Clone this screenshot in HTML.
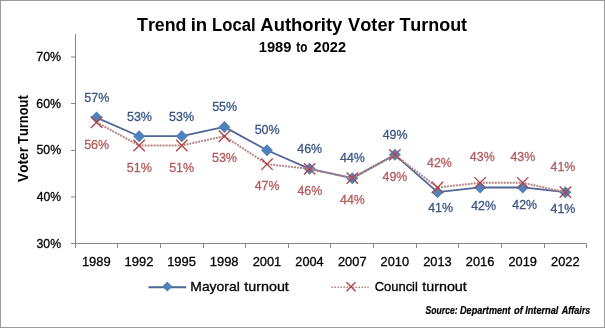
<!DOCTYPE html>
<html><head><meta charset="utf-8"><style>
html,body{margin:0;padding:0;background:#fff;width:605px;height:328px;overflow:hidden}
svg{display:block;will-change:transform}
text{font-family:"Liberation Sans",sans-serif;font-kerning:none}
</style></head><body>
<svg width="605" height="328" viewBox="0 0 605 328">
<rect x="0.5" y="0.5" width="604" height="327" fill="#fff" stroke="#9a9a9a" stroke-width="1"/>
<path d="M75.5 34V248M71 243.5H586.5V248" stroke="#868686" stroke-width="1" fill="none"/>
<path d="M71 57.0H75M71 103.5H75M71 150.4H75M71 196.9H75M117.5 244V248M160.5 244V248M203.5 244V248M245.5 244V248M288.5 244V248M330.5 244V248M373.5 244V248M416.5 244V248M458.5 244V248M501.5 244V248M544.5 244V248" stroke="#868686" stroke-width="1" fill="none"/>
<polyline points="96.54,117.58 139.16,136.22 181.78,136.22 224.40,126.90 267.02,150.20 309.64,168.84 352.26,178.16 394.88,154.86 437.50,192.14 480.12,187.48 522.74,187.48 565.36,192.14" fill="none" stroke="#4d6796" stroke-width="1.8" stroke-linejoin="round"/>
<path d="M96.54 111.58L102.54 117.58L96.54 123.58L90.54 117.58Z" fill="#4F81BD"/>
<path d="M139.16 130.22L145.16 136.22L139.16 142.22L133.16 136.22Z" fill="#4F81BD"/>
<path d="M181.78 130.22L187.78 136.22L181.78 142.22L175.78 136.22Z" fill="#4F81BD"/>
<path d="M224.40 120.90L230.40 126.90L224.40 132.90L218.40 126.90Z" fill="#4F81BD"/>
<path d="M267.02 144.20L273.02 150.20L267.02 156.20L261.02 150.20Z" fill="#4F81BD"/>
<path d="M309.64 162.84L315.64 168.84L309.64 174.84L303.64 168.84Z" fill="#4F81BD"/>
<path d="M352.26 172.16L358.26 178.16L352.26 184.16L346.26 178.16Z" fill="#4F81BD"/>
<path d="M394.88 148.86L400.88 154.86L394.88 160.86L388.88 154.86Z" fill="#4F81BD"/>
<path d="M437.50 186.14L443.50 192.14L437.50 198.14L431.50 192.14Z" fill="#4F81BD"/>
<path d="M480.12 181.48L486.12 187.48L480.12 193.48L474.12 187.48Z" fill="#4F81BD"/>
<path d="M522.74 181.48L528.74 187.48L522.74 193.48L516.74 187.48Z" fill="#4F81BD"/>
<path d="M565.36 186.14L571.36 192.14L565.36 198.14L559.36 192.14Z" fill="#4F81BD"/>
<polyline points="96.54,122.24 139.16,145.54 181.78,145.54 224.40,136.22 267.02,164.18 309.64,168.84 352.26,178.16 394.88,154.86 437.50,187.48 480.12,182.82 522.74,182.82 565.36,192.14" fill="none" stroke="#b98585" stroke-width="2.0" stroke-dasharray="2 1"/>
<path d="M90.84 116.54L102.24 127.94M102.24 116.54L90.84 127.94M133.46 139.84L144.86 151.24M144.86 139.84L133.46 151.24M176.08 139.84L187.48 151.24M187.48 139.84L176.08 151.24M218.70 130.52L230.10 141.92M230.10 130.52L218.70 141.92M261.32 158.48L272.72 169.88M272.72 158.48L261.32 169.88M303.94 163.14L315.34 174.54M315.34 163.14L303.94 174.54M346.56 172.46L357.96 183.86M357.96 172.46L346.56 183.86M389.18 149.16L400.58 160.56M400.58 149.16L389.18 160.56M431.80 181.78L443.20 193.18M443.20 181.78L431.80 193.18M474.42 177.12L485.82 188.52M485.82 177.12L474.42 188.52M517.04 177.12L528.44 188.52M528.44 177.12L517.04 188.52M559.66 186.44L571.06 197.84M571.06 186.44L559.66 197.84" stroke="#b04848" stroke-width="1.4" fill="none"/>
<path d="M148.5 287.2H186.2" stroke="#4d6796" stroke-width="2"/>
<path d="M167.3 281.5L172.3 286.5L167.3 291.5L162.3 286.5Z" fill="#4F81BD"/>
<path d="M331.4 287.2H368.7" stroke="#b98585" stroke-width="1.6" stroke-dasharray="1.6 1.4"/>
<path d="M346.5 282.2L355.5 291.2M355.5 282.2L346.5 291.2" stroke="#b04848" stroke-width="1.5" fill="none"/>
<text transform="translate(137.00 30.70) scale(0.9425 1)" font-size="18.90" font-weight="bold" fill="#000">Trend</text>
<text transform="translate(190.70 30.70) scale(0.9859 1)" font-size="18.90" font-weight="bold" fill="#000">in</text>
<text transform="translate(212.08 30.70) scale(0.8834 1)" font-size="18.90" font-weight="bold" fill="#000">Local</text>
<text transform="translate(260.34 30.70) scale(0.9772 1)" font-size="18.90" font-weight="bold" fill="#000">Authority</text>
<text transform="translate(348.08 30.70) scale(0.9627 1)" font-size="18.90" font-weight="bold" fill="#000">Voter</text>
<text transform="translate(399.40 30.70) scale(0.9490 1)" font-size="18.90" font-weight="bold" fill="#000">Turnout</text>
<text transform="translate(258.77 51.70) scale(1.0050 1)" font-size="14.61" font-weight="bold" fill="#000">1989</text>
<text transform="translate(296.26 51.70) scale(0.8050 1)" font-size="14.61" font-weight="bold" fill="#000">to</text>
<text transform="translate(313.60 51.70) scale(0.9963 1)" font-size="14.61" font-weight="bold" fill="#000">2022</text>
<text transform="translate(36.48 247.55) scale(0.9433 1)" font-size="13.03" font-weight="normal" fill="#000" stroke="#000" stroke-width="0.3">30%</text>
<text transform="translate(36.67 200.95) scale(0.9360 1)" font-size="13.03" font-weight="normal" fill="#000" stroke="#000" stroke-width="0.3">40%</text>
<text transform="translate(36.46 154.35) scale(0.9443 1)" font-size="13.03" font-weight="normal" fill="#000" stroke="#000" stroke-width="0.3">50%</text>
<text transform="translate(36.32 107.75) scale(0.9496 1)" font-size="13.03" font-weight="normal" fill="#000" stroke="#000" stroke-width="0.3">60%</text>
<text transform="translate(36.32 61.15) scale(0.9498 1)" font-size="13.03" font-weight="normal" fill="#000" stroke="#000" stroke-width="0.3">70%</text>
<text transform="translate(81.90 266.45) scale(0.9970 1)" font-size="13.03" font-weight="normal" fill="#000" stroke="#000" stroke-width="0.3">1989</text>
<text transform="translate(124.52 266.45) scale(0.9984 1)" font-size="13.03" font-weight="normal" fill="#000" stroke="#000" stroke-width="0.3">1992</text>
<text transform="translate(167.14 266.45) scale(0.9944 1)" font-size="13.03" font-weight="normal" fill="#000" stroke="#000" stroke-width="0.3">1995</text>
<text transform="translate(209.76 266.45) scale(0.9951 1)" font-size="13.03" font-weight="normal" fill="#000" stroke="#000" stroke-width="0.3">1998</text>
<text transform="translate(252.72 266.45) scale(0.9855 1)" font-size="13.03" font-weight="normal" fill="#000" stroke="#000" stroke-width="0.3">2001</text>
<text transform="translate(295.35 266.45) scale(0.9766 1)" font-size="13.03" font-weight="normal" fill="#000" stroke="#000" stroke-width="0.3">2004</text>
<text transform="translate(337.96 266.45) scale(0.9862 1)" font-size="13.03" font-weight="normal" fill="#000" stroke="#000" stroke-width="0.3">2007</text>
<text transform="translate(380.59 266.45) scale(0.9810 1)" font-size="13.03" font-weight="normal" fill="#000" stroke="#000" stroke-width="0.3">2010</text>
<text transform="translate(423.21 266.45) scale(0.9833 1)" font-size="13.03" font-weight="normal" fill="#000" stroke="#000" stroke-width="0.3">2013</text>
<text transform="translate(465.83 266.45) scale(0.9833 1)" font-size="13.03" font-weight="normal" fill="#000" stroke="#000" stroke-width="0.3">2016</text>
<text transform="translate(508.44 266.45) scale(0.9848 1)" font-size="13.03" font-weight="normal" fill="#000" stroke="#000" stroke-width="0.3">2019</text>
<text transform="translate(551.06 266.45) scale(0.9862 1)" font-size="13.03" font-weight="normal" fill="#000" stroke="#000" stroke-width="0.3">2022</text>
<text transform="translate(27.80 181.89) rotate(-90) scale(0.9393 1)" font-size="14.53" font-weight="bold" fill="#000">Voter</text>
<text transform="translate(27.80 143.94) rotate(-90) scale(0.8873 1)" font-size="14.53" font-weight="bold" fill="#000">Turnout</text>
<text transform="translate(190.31 291.05) scale(1.0728 1)" font-size="12.97" font-weight="normal" fill="#000" stroke="#000" stroke-width="0.3">Mayoral</text>
<text transform="translate(244.33 291.05) scale(1.1030 1)" font-size="12.97" font-weight="normal" fill="#000" stroke="#000" stroke-width="0.3">turnout</text>
<text transform="translate(374.69 291.05) scale(1.0214 1)" font-size="12.69" font-weight="normal" fill="#000" stroke="#000" stroke-width="0.3">Council</text>
<text transform="translate(422.23 291.05) scale(1.1295 1)" font-size="12.69" font-weight="normal" fill="#000" stroke="#000" stroke-width="0.3">turnout</text>
<text transform="translate(425.59 313.90) scale(0.8494 1)" font-size="10.13" font-weight="bold" font-style="italic" fill="#000" stroke="#000" stroke-width="0.2">Source:</text>
<text transform="translate(460.04 313.90) scale(0.8997 1)" font-size="10.13" font-weight="bold" font-style="italic" fill="#000" stroke="#000" stroke-width="0.2">Department</text>
<text transform="translate(514.11 313.90) scale(0.9310 1)" font-size="10.13" font-weight="bold" font-style="italic" fill="#000" stroke="#000" stroke-width="0.2">of</text>
<text transform="translate(525.14 313.90) scale(0.9101 1)" font-size="10.13" font-weight="bold" font-style="italic" fill="#000" stroke="#000" stroke-width="0.2">Internal</text>
<text transform="translate(561.69 313.90) scale(0.8951 1)" font-size="10.13" font-weight="bold" font-style="italic" fill="#000" stroke="#000" stroke-width="0.2">Affairs</text>
<text transform="translate(84.25 101.55) scale(0.9438 1)" font-size="13.26" font-weight="normal" fill="#3b5583" stroke="#3b5583" stroke-width="0.3">57%</text>
<text transform="translate(126.95 120.55) scale(0.9498 1)" font-size="13.18" font-weight="normal" fill="#3b5583" stroke="#3b5583" stroke-width="0.3">53%</text>
<text transform="translate(169.05 120.55) scale(0.9498 1)" font-size="13.18" font-weight="normal" fill="#3b5583" stroke="#3b5583" stroke-width="0.3">53%</text>
<text transform="translate(212.15 110.75) scale(0.9438 1)" font-size="13.26" font-weight="normal" fill="#3b5583" stroke="#3b5583" stroke-width="0.3">55%</text>
<text transform="translate(254.65 134.45) scale(0.9498 1)" font-size="13.18" font-weight="normal" fill="#3b5583" stroke="#3b5583" stroke-width="0.3">50%</text>
<text transform="translate(297.27 152.75) scale(0.9414 1)" font-size="13.18" font-weight="normal" fill="#3b5583" stroke="#3b5583" stroke-width="0.3">46%</text>
<text transform="translate(340.07 161.55) scale(0.9355 1)" font-size="13.26" font-weight="normal" fill="#3b5583" stroke="#3b5583" stroke-width="0.3">44%</text>
<text transform="translate(382.67 138.65) scale(0.9414 1)" font-size="13.18" font-weight="normal" fill="#3b5583" stroke="#3b5583" stroke-width="0.3">49%</text>
<text transform="translate(428.17 211.55) scale(0.9355 1)" font-size="13.26" font-weight="normal" fill="#3b5583" stroke="#3b5583" stroke-width="0.3">41%</text>
<text transform="translate(471.17 210.15) scale(0.9414 1)" font-size="13.18" font-weight="normal" fill="#3b5583" stroke="#3b5583" stroke-width="0.3">42%</text>
<text transform="translate(512.27 209.45) scale(0.9414 1)" font-size="13.18" font-weight="normal" fill="#3b5583" stroke="#3b5583" stroke-width="0.3">42%</text>
<text transform="translate(550.57 213.15) scale(0.9355 1)" font-size="13.26" font-weight="normal" fill="#3b5583" stroke="#3b5583" stroke-width="0.3">41%</text>
<text transform="translate(84.15 148.55) scale(0.9498 1)" font-size="13.18" font-weight="normal" fill="#b25a5c" stroke="#b25a5c" stroke-width="0.3">56%</text>
<text transform="translate(126.75 171.85) scale(0.9438 1)" font-size="13.26" font-weight="normal" fill="#b25a5c" stroke="#b25a5c" stroke-width="0.3">51%</text>
<text transform="translate(169.15 171.85) scale(0.9438 1)" font-size="13.26" font-weight="normal" fill="#b25a5c" stroke="#b25a5c" stroke-width="0.3">51%</text>
<text transform="translate(211.95 162.35) scale(0.9498 1)" font-size="13.18" font-weight="normal" fill="#b25a5c" stroke="#b25a5c" stroke-width="0.3">53%</text>
<text transform="translate(254.67 190.45) scale(0.9355 1)" font-size="13.26" font-weight="normal" fill="#b25a5c" stroke="#b25a5c" stroke-width="0.3">47%</text>
<text transform="translate(297.47 194.65) scale(0.9414 1)" font-size="13.18" font-weight="normal" fill="#b25a5c" stroke="#b25a5c" stroke-width="0.3">46%</text>
<text transform="translate(340.07 204.45) scale(0.9355 1)" font-size="13.26" font-weight="normal" fill="#b25a5c" stroke="#b25a5c" stroke-width="0.3">44%</text>
<text transform="translate(382.57 180.75) scale(0.9414 1)" font-size="13.18" font-weight="normal" fill="#b25a5c" stroke="#b25a5c" stroke-width="0.3">49%</text>
<text transform="translate(427.07 166.55) scale(0.9414 1)" font-size="13.18" font-weight="normal" fill="#b25a5c" stroke="#b25a5c" stroke-width="0.3">42%</text>
<text transform="translate(469.87 160.95) scale(0.9414 1)" font-size="13.18" font-weight="normal" fill="#b25a5c" stroke="#b25a5c" stroke-width="0.3">43%</text>
<text transform="translate(510.47 160.95) scale(0.9414 1)" font-size="13.18" font-weight="normal" fill="#b25a5c" stroke="#b25a5c" stroke-width="0.3">43%</text>
<text transform="translate(550.57 170.65) scale(0.9355 1)" font-size="13.26" font-weight="normal" fill="#b25a5c" stroke="#b25a5c" stroke-width="0.3">41%</text>
</svg>
</body></html>
